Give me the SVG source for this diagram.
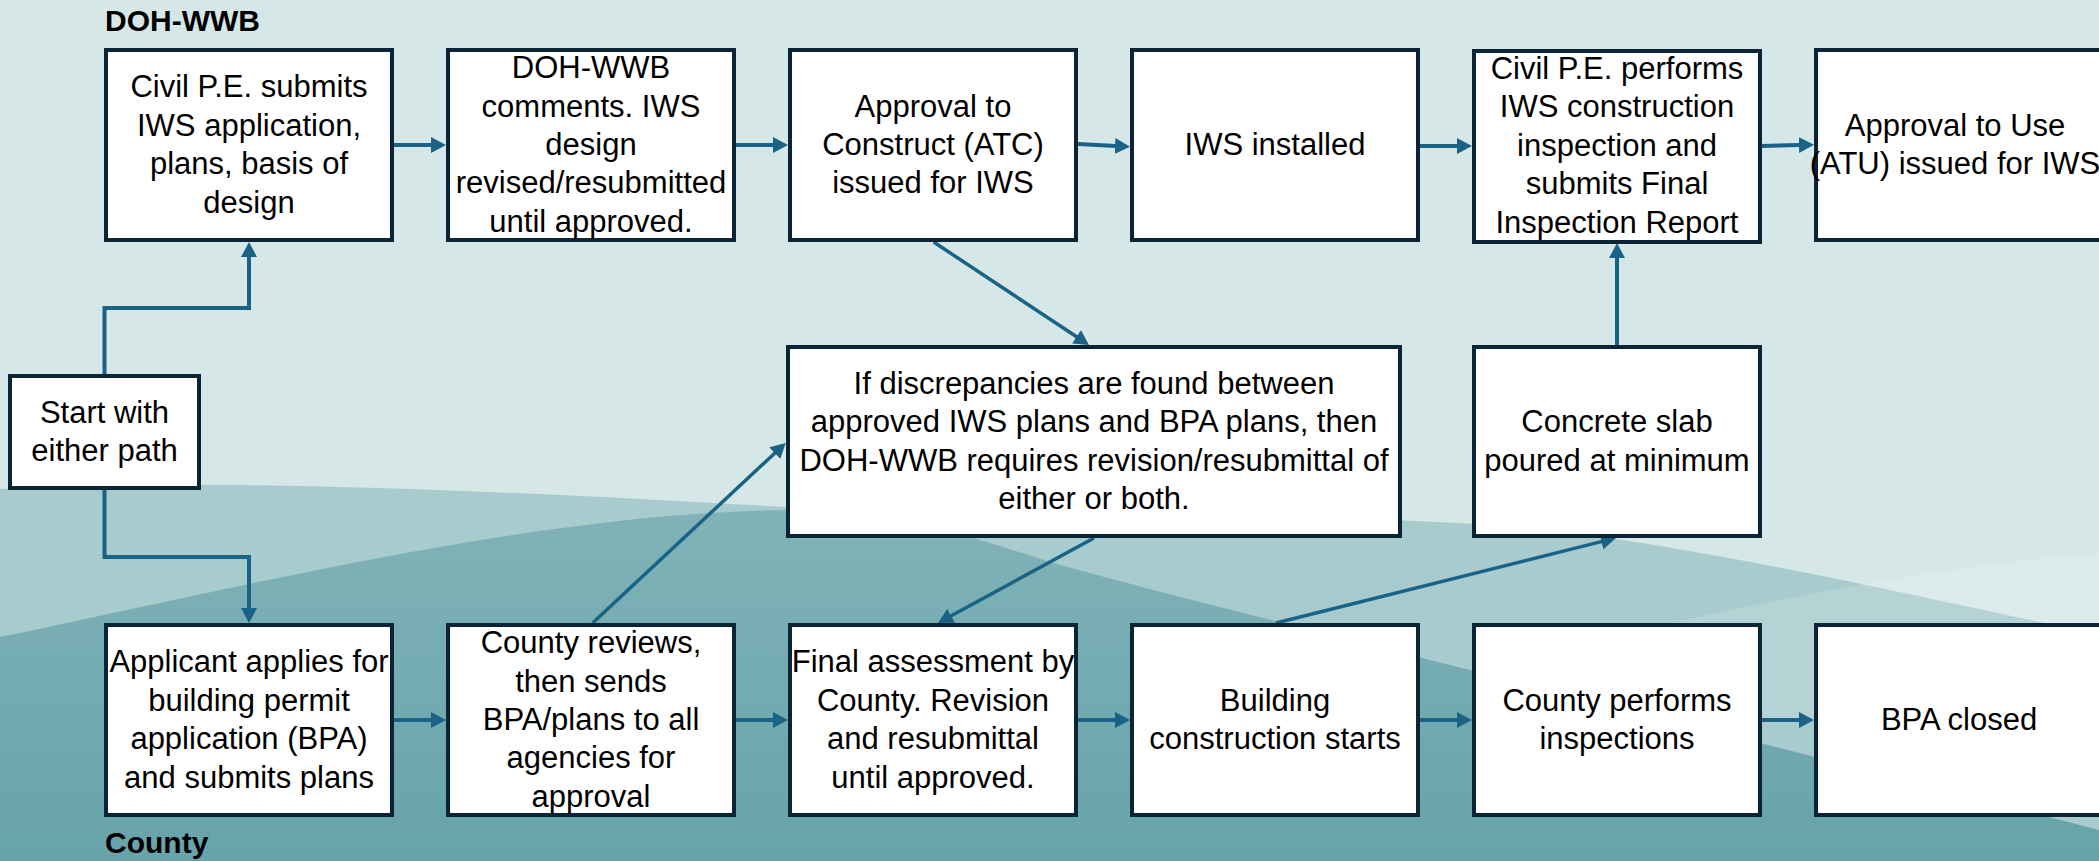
<svg xmlns="http://www.w3.org/2000/svg" width="2099" height="861" viewBox="0 0 2099 861">
<defs>
<style>
.box{fill:#ffffff;stroke:#0b2536;stroke-width:4}
.t{font-family:"Liberation Sans",Arial,sans-serif;font-size:31px;fill:#000000;text-anchor:middle}
.lbl{font-family:"Liberation Sans",Arial,sans-serif;font-size:30px;font-weight:bold;fill:#000000}
.c{fill:none;stroke:#1a6386;stroke-width:4;marker-end:url(#ah)}
.d{stroke-width:3.5}
</style>
<marker id="ah" markerUnits="userSpaceOnUse" markerWidth="16" markerHeight="16" refX="1" refY="8" orient="auto">
<path d="M0,0 L15,8 L0,16 Z" fill="#1a6386"/>
</marker>
<linearGradient id="gB" x1="0" y1="510" x2="0" y2="861" gradientUnits="userSpaceOnUse">
<stop offset="0" stop-color="#80b3b8"/>
<stop offset="1" stop-color="#67a3aa"/>
</linearGradient>
</defs>

<g id="background">
<rect x="0" y="0" width="2099" height="861" fill="#d6e7e8"/>
<path d="M0,489 C200,478 500,490 800,508 C1050,520 1350,510 1550,530 C1750,555 1950,605 2099,634 L2099,861 L0,861 Z" fill="#a8cbce"/>
<path d="M0,637 C250,585 550,510 800,510 C900,510 980,540 1050,562 C1200,605 1600,700 2099,830 L2099,861 L0,861 Z" fill="url(#gB)"/>
<path d="M1560,720 C1610,660 1640,632 1683,620 C1800,595 1950,565 2099,553 L2099,720 Z" fill="#ffffff" fill-opacity="0.15"/>
</g>

<g id="lane-labels">
<text class="lbl" x="105" y="31">DOH-WWB</text>
<text class="lbl" x="105" y="853">County</text>
</g>

<g id="connectors">
<path class="c" d="M394,145 H432"/>
<path class="c" d="M736,145 H774"/>
<path class="c" d="M1078,144 L1116,146"/>
<path class="c" d="M1420,146 H1458"/>
<path class="c" d="M1762,146 L1800,145"/>
<path class="c" d="M394,720 H432"/>
<path class="c" d="M736,720 H774"/>
<path class="c" d="M1078,720 H1116"/>
<path class="c" d="M1420,720 H1458"/>
<path class="c" d="M1762,720 H1800"/>
<path class="c" d="M104.5,374 V308 H249 V256"/>
<path class="c" d="M104.5,490 V557 H249 V609"/>
<path class="c d" d="M933.7,242 L1077.3,337.3"/>
<path class="c d" d="M592.6,623 L775.5,452.5"/>
<path class="c d" d="M1094,538 L950.3,616.3"/>
<path class="c d" d="M1276,623 L1602.4,541.4"/>
<path class="c" d="M1617,345 V257"/>
</g>

<g id="n-start">
<rect class="box" x="10" y="376" width="189" height="112"/>
<text class="t" x="104.5" y="422.8">Start with</text>
<text class="t" x="104.5" y="461.2">either path</text>
</g>

<g id="n-civil-submits">
<rect class="box" x="106" y="50" width="286" height="190"/>
<text class="t" x="249" y="97.4">Civil P.E. submits</text>
<text class="t" x="249" y="135.8">IWS application,</text>
<text class="t" x="249" y="174.2">plans, basis of</text>
<text class="t" x="249" y="212.6">design</text>
</g>

<g id="n-doh-comments">
<rect class="box" x="448" y="50" width="286" height="190"/>
<text class="t" x="591" y="78.2">DOH-WWB</text>
<text class="t" x="591" y="116.6">comments. IWS</text>
<text class="t" x="591" y="155">design</text>
<text class="t" x="591" y="193.4">revised/resubmitted</text>
<text class="t" x="591" y="231.8">until approved.</text>
</g>

<g id="n-atc">
<rect class="box" x="790" y="50" width="286" height="190"/>
<text class="t" x="933" y="116.6">Approval to</text>
<text class="t" x="933" y="155">Construct (ATC)</text>
<text class="t" x="933" y="193.4">issued for IWS</text>
</g>

<g id="n-iws-installed">
<rect class="box" x="1132" y="50" width="286" height="190"/>
<text class="t" x="1275" y="155">IWS installed</text>
</g>

<g id="n-civil-inspection">
<rect class="box" x="1474" y="51" width="286" height="191"/>
<text class="t" x="1617" y="79">Civil P.E. performs</text>
<text class="t" x="1617" y="117.4">IWS construction</text>
<text class="t" x="1617" y="155.8">inspection and</text>
<text class="t" x="1617" y="194.2">submits Final</text>
<text class="t" x="1617" y="232.6">Inspection Report</text>
</g>

<g id="n-atu">
<rect class="box" x="1816" y="50" width="286" height="190"/>
<text class="t" x="1955" y="135.8">Approval to Use</text>
<text class="t" x="1955" y="174.2" font-size="30">(ATU) issued for IWS</text>
</g>

<g id="n-discrepancies">
<rect class="box" x="788" y="347" width="612" height="189"/>
<text class="t" x="1094" y="393.9">If discrepancies are found between</text>
<text class="t" x="1094" y="432.3">approved IWS plans and BPA plans, then</text>
<text class="t" x="1094" y="470.7">DOH-WWB requires revision/resubmittal of</text>
<text class="t" x="1094" y="509.1">either or both.</text>
</g>

<g id="n-concrete">
<rect class="box" x="1474" y="347" width="286" height="189"/>
<text class="t" x="1617" y="432.3">Concrete slab</text>
<text class="t" x="1617" y="470.7">poured at minimum</text>
</g>

<g id="n-applicant">
<rect class="box" x="106" y="625" width="286" height="190"/>
<text class="t" x="249" y="672.4">Applicant applies for</text>
<text class="t" x="249" y="710.8">building permit</text>
<text class="t" x="249" y="749.2">application (BPA)</text>
<text class="t" x="249" y="787.6">and submits plans</text>
</g>

<g id="n-county-reviews">
<rect class="box" x="448" y="625" width="286" height="190"/>
<text class="t" x="591" y="653.2">County reviews,</text>
<text class="t" x="591" y="691.6">then sends</text>
<text class="t" x="591" y="730">BPA/plans to all</text>
<text class="t" x="591" y="768.4">agencies for</text>
<text class="t" x="591" y="806.8">approval</text>
</g>

<g id="n-final-assessment">
<rect class="box" x="790" y="625" width="286" height="190"/>
<text class="t" x="933" y="672.4">Final assessment by</text>
<text class="t" x="933" y="710.8">County. Revision</text>
<text class="t" x="933" y="749.2">and resubmittal</text>
<text class="t" x="933" y="787.6">until approved.</text>
</g>

<g id="n-building">
<rect class="box" x="1132" y="625" width="286" height="190"/>
<text class="t" x="1275" y="710.8">Building</text>
<text class="t" x="1275" y="749.2">construction starts</text>
</g>

<g id="n-county-inspections">
<rect class="box" x="1474" y="625" width="286" height="190"/>
<text class="t" x="1617" y="710.8">County performs</text>
<text class="t" x="1617" y="749.2">inspections</text>
</g>

<g id="n-bpa-closed">
<rect class="box" x="1816" y="625" width="286" height="190"/>
<text class="t" x="1959" y="730">BPA closed</text>
</g>
</svg>
